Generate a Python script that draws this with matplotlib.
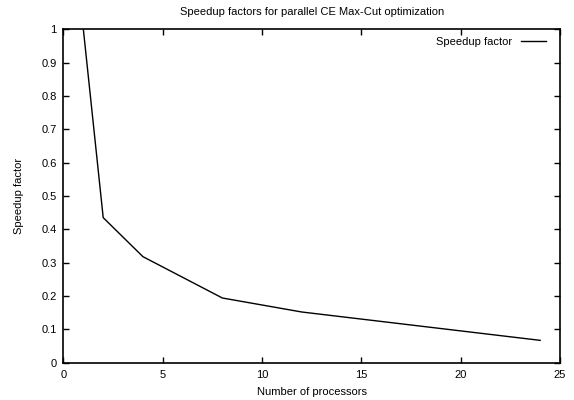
import matplotlib
matplotlib.use("Agg")
import matplotlib.pyplot as plt

plt.rcParams['font.family'] = ['Liberation Sans', 'DejaVu Sans']

# data
processors = [1, 2, 4, 8, 12, 24]
speedup = [1.0, 0.435, 0.318, 0.194, 0.152, 0.067]

fig = plt.figure(figsize=(5.74, 4.0), dpi=100)
ax = fig.add_axes([0.1106, 0.0933, 0.865, 0.8335])

ax.plot(processors, speedup, color='black', linewidth=1.0, label='Speedup factor')

ax.set_xlim(0, 25)
ax.set_ylim(0, 1)
ax.set_xticks(range(0, 26, 5))
ax.set_yticks([i / 10 for i in range(11)])
ax.set_yticklabels(['0', '0.1', '0.2', '0.3', '0.4', '0.5', '0.6', '0.7', '0.8', '0.9', '1'])
ax.tick_params(direction='in', top=True, right=True, labelsize=8, length=4, width=1, pad=5)
for s in ax.spines.values():
    s.set_linewidth(1.2)

ax.set_title('Speedup factors for parallel CE Max-Cut optimization', fontsize=8, pad=10)
ax.set_xlabel('Number of processors', fontsize=8, labelpad=5)
ax.set_ylabel('Speedup factor', fontsize=8, labelpad=12)

leg = ax.legend(loc='upper right', bbox_to_anchor=(0.988, 1.0), frameon=False, fontsize=8,
                markerfirst=False, handlelength=2.3, borderaxespad=0.3)

fig.savefig('out.png', dpi=100)
